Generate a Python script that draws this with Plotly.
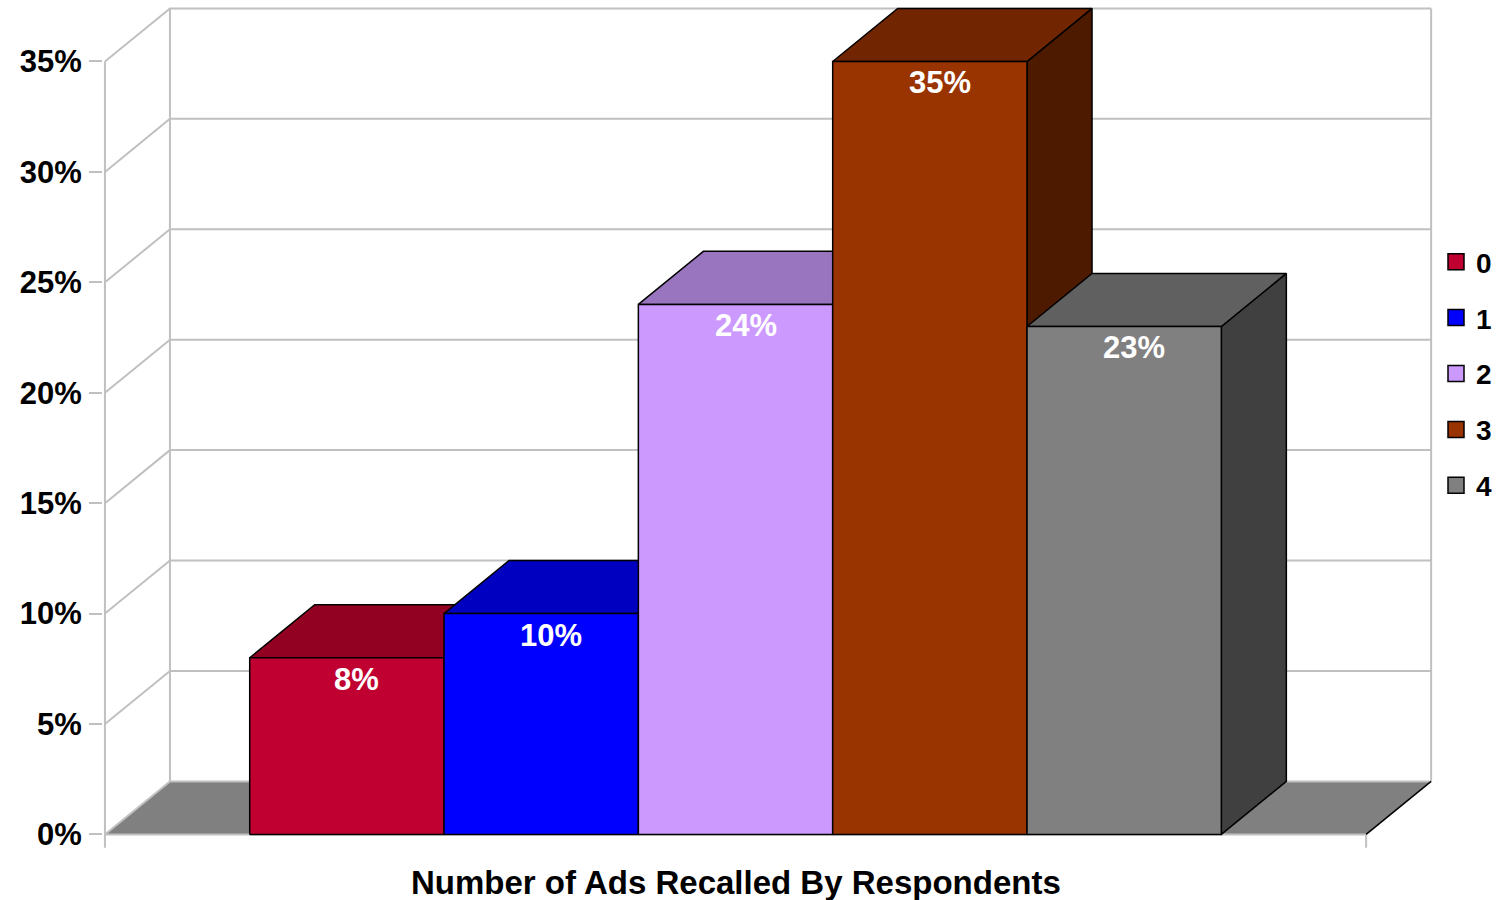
import plotly.graph_objects as go

# ---------------- data ----------------
categories = ["0", "1", "2", "3", "4"]
values = [8, 10, 24, 35, 23]          # percent of respondents
y_ticks = [0, 5, 10, 15, 20, 25, 30, 35]
x_title = "Number of Ads Recalled By Respondents"

front_colors = ["#C00030", "#0000FF", "#CC99FF", "#993300", "#808080"]
top_colors = ["#920022", "#0000C0", "#9975BF", "#712500", "#606060"]
side_colors = ["#700019", "#000090", "#7A5C99", "#4D1A00", "#404040"]

# ---------------- geometry (data units) ----------------
GAP = 0.745            # empty space left/right of bar group, in bar widths
BW = 1.0               # bar width
N = len(values)
FRONT_W = 2 * GAP + N * BW
PX_X = 194.3           # pixels per x unit
PX_Y = 22.06           # pixels per percent
DX = 65 / PX_X         # depth offset
DY = 53 / PX_Y
YTOP = max(y_ticks)
XMAX = FRONT_W + DX

X0, X1 = -0.01, XMAX + 0.02
Y0, Y1 = -0.75, YTOP + DY + 0.2
FRONT_LEFT_PX, FRONT_BOTTOM_PX = 105, 834
ml = FRONT_LEFT_PX + X0 * PX_X
mr = 1500 - (FRONT_LEFT_PX + X1 * PX_X)
mb = 900 - (FRONT_BOTTOM_PX - Y0 * PX_Y)
mt = FRONT_BOTTOM_PX - Y1 * PX_Y

GRID = "#C0C0C0"
FONT = "Liberation Sans, Arial, sans-serif"

fig = go.Figure()


def line_trace(xs, ys, color, width=2):
    return go.Scatter(x=xs, y=ys, mode="lines", line=dict(color=color, width=width),
                      hoverinfo="skip", showlegend=False)


def poly(xs, ys, fill, lc="black", lw=1.5):
    return go.Scatter(x=xs + [xs[0]], y=ys + [ys[0]], mode="lines", fill="toself",
                      fillcolor=fill, line=dict(color=lc, width=lw),
                      hoverinfo="skip", showlegend=False)


# floor
fig.add_trace(go.Scatter(x=[0, FRONT_W, XMAX, DX, 0], y=[0, 0, DY, DY, 0], mode="lines",
                         fill="toself", fillcolor="#808080", line=dict(width=0),
                         hoverinfo="skip", showlegend=False))

# walls and gridlines
gx, gy = [], []
for t in y_ticks:
    gx += [0, DX, XMAX, None]
    gy += [t, t + DY, t + DY, None]
gx += [DX, DX, None, XMAX, XMAX, None, 0, 0, None, 0, FRONT_W, None, FRONT_W, FRONT_W]
gy += [DY, YTOP + DY, None, DY, YTOP + DY, None, -0.6, YTOP, None, 0, 0, None, 0, -0.6]
fig.add_trace(line_trace(gx, gy, GRID, 2))
# dark right edge of floor
fig.add_trace(line_trace([FRONT_W, XMAX], [0, DY], "black", 1.5))

# bars (painter's order left to right)
for i, v in enumerate(values):
    x0 = GAP + i * BW
    x1 = x0 + BW
    fig.add_trace(poly([x1, x1 + DX, x1 + DX, x1], [0, DY, v + DY, v], side_colors[i]))
    fig.add_trace(poly([x0, x1, x1 + DX, x0 + DX], [v, v, v + DY, v + DY], top_colors[i]))
    fig.add_trace(poly([x0, x1, x1, x0], [0, 0, v, v], front_colors[i]))
    fig.add_annotation(x=(x0 + x1) / 2, y=v, xref="x", yref="y", text=f"{v}%",
                       showarrow=False, yanchor="top", yshift=-2, xshift=10,
                       font=dict(family=FONT, size=31, color="white", weight="bold"))

# legend entries
for i, c in enumerate(categories):
    fig.add_trace(go.Scatter(x=[None], y=[None], mode="markers", name=c,
                             legendgroup=c,
                             marker=dict(symbol="square", size=17, color=front_colors[i],
                                         line=dict(color="black", width=1.5))))

# x-axis title
fig.add_annotation(x=FRONT_W / 2, y=0, xref="x", yref="y", text=x_title,
                   showarrow=False, yanchor="top", yshift=-28,
                   font=dict(family=FONT, size=33, color="black", weight="bold"))

fig.update_layout(
    width=1500, height=900, autosize=False,
    margin=dict(l=ml, r=mr, t=mt, b=mb, pad=0),
    paper_bgcolor="white", plot_bgcolor="white",
    showlegend=True,
    legend=dict(xref="container", yref="container", x=1436 / 1500, y=1 - 237 / 900,
                xanchor="left", yanchor="top", tracegroupgap=16.5,
                font=dict(family=FONT, size=28, color="black", weight="bold"),
                bgcolor="rgba(0,0,0,0)", itemwidth=30),
    xaxis=dict(range=[X0, X1], showgrid=False, zeroline=False, showline=False,
               showticklabels=False, ticks="", automargin=False, fixedrange=True),
    yaxis=dict(range=[Y0, Y1], showgrid=False, zeroline=False, showline=False,
               tickvals=y_ticks, ticktext=[f"{t}%" for t in y_ticks],
               ticks="outside", ticklen=13, tickwidth=2, tickcolor=GRID,
               ticklabelstandoff=1,
               tickfont=dict(family=FONT, size=31, color="black", weight="bold"),
               automargin=False, fixedrange=True),
)

fig.write_html("out.html", config={"displayModeBar": False},
               post_script="document.body.style.margin='0';document.body.style.padding='0';")
